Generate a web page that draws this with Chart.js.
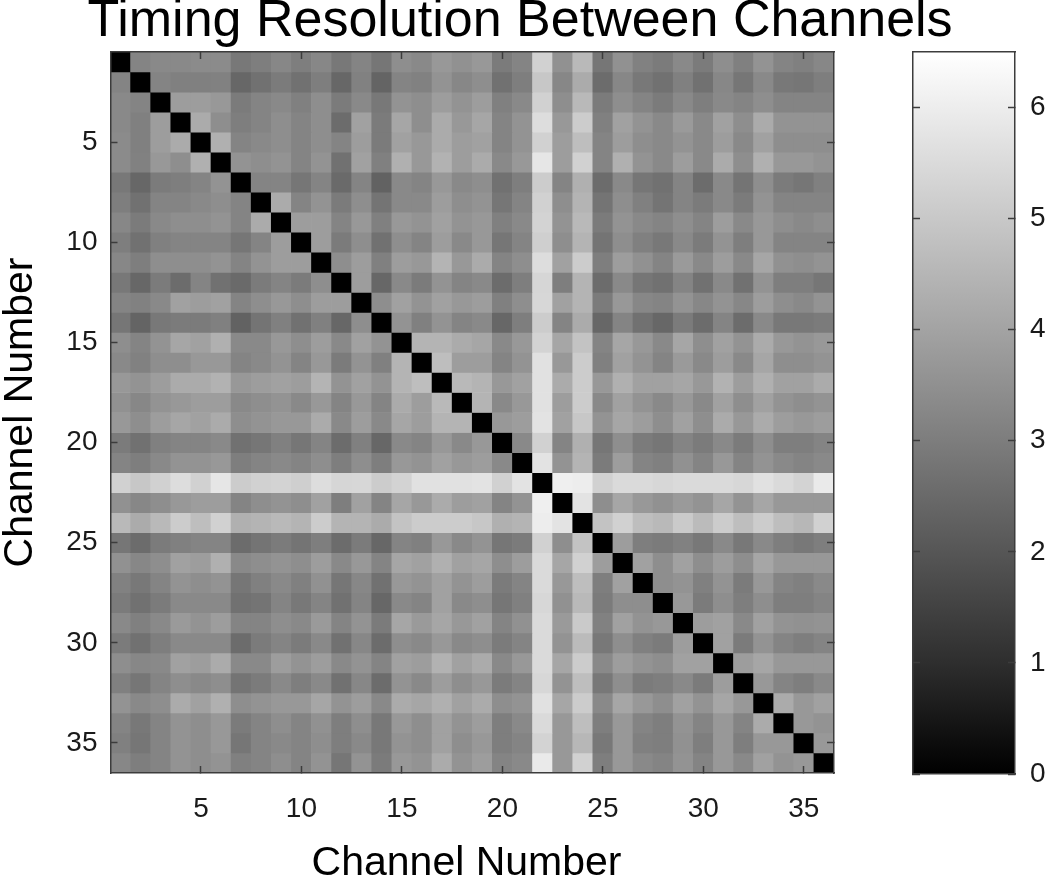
<!DOCTYPE html>
<html>
<head>
<meta charset="utf-8">
<title>Timing Resolution Between Channels</title>
<script src="https://cdn.jsdelivr.net/npm/chart.js@4"></script>
<style>
html, body { margin: 0; padding: 0; background: #fff; overflow: hidden; }
#wrap { position: relative; width: 1050px; height: 878px; }
canvas { position: absolute; top: 0; filter: blur(0.7px); }
#matrixChart { left: 0; }
#colorbarChart { left: 880px; }
</style>
</head>
<body>
<div id="wrap">
  <canvas id="matrixChart" width="1050" height="878"></canvas>
  <canvas id="colorbarChart" width="170" height="878"></canvas>
</div>
<script>
const channels = [1,2,3,4,5,6,7,8,9,10,11,12,13,14,15,16,17,18,19,20,21,22,23,24,25,26,27,28,29,30,31,32,33,34,35,36];
const channelTicks = [5,10,15,20,25,30,35];
const colorTicks = [0,1,2,3,4,5,6];
const colorRange = [0,6.5];

// upper triangle, each row starts right after the diagonal (diagonal is 0, matrix is symmetric)
const upperRows = [
[3.19,3.32,3.32,3.37,3.37,2.86,3.01,3.26,3.01,3.26,2.86,3.19,2.81,3.44,3.32,3.70,3.52,3.70,2.93,3.19,5.23,3.52,4.59,2.81,3.52,3.11,2.93,3.32,2.93,3.44,3.06,3.57,3.19,3.06,3.26],
[3.19,3.06,3.06,3.11,2.42,2.68,2.93,2.68,3.01,2.42,3.11,2.35,3.19,3.11,3.57,3.26,3.44,2.68,3.01,4.97,3.26,4.21,2.55,3.26,2.86,2.68,3.06,2.68,3.26,2.81,3.32,2.86,2.81,3.01],
[3.83,3.83,3.70,2.93,3.19,3.32,3.06,3.44,2.93,3.32,2.86,3.57,3.44,3.83,3.57,3.83,3.06,3.32,5.23,3.44,4.59,2.93,3.44,3.19,2.93,3.32,3.01,3.32,3.19,3.44,3.19,3.19,3.19],
[4.21,3.44,3.01,3.19,3.44,3.19,3.44,2.55,3.95,2.93,4.08,3.44,4.21,3.70,4.08,3.19,3.57,5.56,3.70,5.10,3.06,3.95,3.57,3.32,3.77,3.32,3.95,3.44,4.21,3.57,3.57,3.57],
[4.34,3.19,3.32,3.44,3.19,3.44,3.19,3.83,2.93,3.95,3.70,4.21,3.83,3.95,3.19,3.57,5.23,3.83,4.72,3.19,3.83,3.44,3.32,3.57,3.32,3.83,3.32,3.95,3.44,3.44,3.44],
[3.57,3.44,3.57,3.19,3.57,2.68,3.95,3.06,4.34,3.70,4.39,3.83,4.21,3.32,3.70,5.81,3.83,5.23,3.19,4.34,3.57,3.32,3.83,3.32,4.21,3.44,4.34,3.70,3.70,3.57],
[3.19,3.19,2.81,3.19,2.50,3.19,2.30,3.32,3.19,3.70,3.32,3.44,2.68,3.01,5.10,3.19,4.34,2.55,3.32,2.81,2.68,3.19,2.55,3.32,2.75,3.44,2.93,2.81,3.06],
[4.21,3.19,3.57,2.93,3.44,2.75,3.32,3.32,3.83,3.44,3.57,2.81,3.19,5.23,3.44,4.46,2.75,3.44,3.06,2.75,3.19,2.93,3.32,2.93,3.57,3.19,3.19,3.19],
[3.83,3.83,3.19,3.70,3.06,3.70,3.57,3.95,3.57,3.70,3.06,3.32,5.30,3.57,4.59,2.93,3.57,3.32,3.19,3.44,3.19,3.83,3.32,3.70,3.44,3.32,3.44],
[3.83,2.93,3.44,2.68,3.44,3.19,3.83,3.32,3.70,2.81,3.19,5.18,3.44,4.46,2.75,3.44,3.06,2.86,3.32,2.93,3.57,3.01,3.70,3.19,3.19,3.19],
[3.44,3.83,3.06,3.83,3.70,4.46,3.70,4.21,3.19,3.44,5.56,3.95,5.10,3.01,3.83,3.52,3.19,3.77,3.32,3.83,3.32,4.08,3.52,3.44,3.57],
[3.83,2.42,3.32,2.93,3.57,3.19,3.32,2.55,3.01,5.36,3.01,4.46,2.55,3.32,2.81,2.68,3.19,2.68,3.32,2.68,3.57,3.01,3.01,2.81],
[3.44,3.95,3.57,3.95,3.70,3.83,3.06,3.44,5.41,3.95,4.46,2.93,3.70,3.26,3.19,3.57,3.26,3.57,3.26,3.83,3.44,3.32,3.57],
[3.57,3.06,3.57,3.19,3.32,2.42,3.01,5.10,3.19,4.21,2.42,3.19,2.68,2.42,2.93,2.55,3.19,2.55,3.32,2.86,2.86,2.93],
[4.46,4.46,4.21,4.08,3.32,3.70,5.30,4.08,4.85,3.19,4.08,3.70,3.32,4.08,3.44,3.95,3.57,4.21,3.70,3.57,3.70],
[4.72,3.83,3.83,3.19,3.57,5.66,3.70,5.10,3.06,3.95,3.57,3.19,3.77,3.32,3.83,3.32,4.08,3.44,3.44,3.57],
[4.59,4.46,3.70,3.95,5.66,4.21,5.10,3.70,4.34,3.95,3.95,4.08,3.70,4.39,3.83,4.34,3.95,3.95,4.21],
[4.46,3.32,3.70,5.66,3.83,5.10,3.32,3.95,3.57,3.32,3.70,3.32,3.95,3.44,3.95,3.57,3.44,3.57],
[3.70,3.83,5.74,3.95,4.97,3.57,4.08,3.83,3.44,3.95,3.44,4.21,3.70,4.21,3.83,3.70,3.83],
[3.32,5.23,3.19,4.34,2.81,3.44,2.93,2.81,3.19,2.93,3.32,2.93,3.44,3.01,3.01,3.19],
[5.74,3.57,4.46,2.93,3.83,3.19,3.06,3.52,3.19,3.70,3.19,3.57,3.32,3.19,3.32],
[6.07,5.99,5.23,5.48,5.48,5.41,5.48,5.48,5.48,5.41,5.66,5.48,5.30,5.92],
[5.74,3.44,4.08,3.70,3.52,3.77,3.57,4.08,3.57,4.08,3.70,3.70,3.70],
[4.85,5.23,4.72,4.59,5.05,4.64,5.10,4.72,5.10,4.72,4.54,5.23],
[3.83,3.01,2.93,3.11,2.86,3.32,2.86,3.32,3.01,2.86,3.01],
[3.95,3.44,3.95,3.44,3.83,3.44,4.08,3.70,3.70,3.70],
[3.44,3.57,3.06,3.57,2.93,3.70,3.19,3.06,3.32],
[3.70,2.93,3.44,3.01,3.44,3.01,3.01,3.19],
[3.83,3.95,3.32,3.95,3.57,3.52,3.57],
[3.95,2.93,3.57,3.19,3.01,3.19],
[3.83,4.08,3.70,3.70,3.70],
[3.70,3.19,3.01,3.32],
[4.21,3.70,3.95],
[3.70,3.57],
[3.70]
];

function cellValue(row, col) {
  if (row === col) return 0;
  const lo = Math.min(row, col), hi = Math.max(row, col);
  return upperRows[lo][hi - lo - 1];
}

// colour map of the reference runs a little lighter than a straight ramp in the mid greys
function grayFor(v) {
  const g = Math.round(Math.pow(v / colorRange[1], 0.92) * 255);
  return `rgb(${g},${g},${g})`;
}

const FONT = 'Arial, "Liberation Sans", sans-serif';
const INK = '#1a1a1a';
const EDGE = '#3c3c3c';

function fixedTicks(list) {
  return scale => { scale.ticks = list.map(v => ({ value: v })); };
}

function axisBase() {
  return {
    offset: false,
    border: { display: true, color: EDGE, width: 1.5, z: 1 },
    grid: { offset: false, drawOnChartArea: false, tickLength: -7, tickColor: EDGE, tickWidth: 1.5, z: 1 }
  };
}

// one dataset per row, each cell a floating bar one channel tall
const rowDatasets = channels.map((ch, r) => ({
  data: channels.map(c => ({ x: c, y: [ch - 0.5, ch + 0.5] })),
  backgroundColor: channels.map((c, k) => grayFor(cellValue(r, k))),
  borderWidth: 0,
  barPercentage: 1,
  categoryPercentage: 1,
  grouped: false
}));

new Chart(document.getElementById('matrixChart'), {
  type: 'bar',
  data: { datasets: rowDatasets },
  options: {
    responsive: false,
    animation: false,
    layout: { padding: { left: 0, right: 10, top: 0, bottom: 0 } },
    plugins: {
      legend: { display: false },
      tooltip: { enabled: false },
      title: {
        display: true,
        text: 'Timing Resolution Between Channels',
        color: '#000',
        font: { family: FONT, size: 52, weight: 'normal', lineHeight: 1 },
        padding: { top: -4, bottom: 4 }
      }
    },
    scales: {
      x: {
        ...axisBase(),
        type: 'linear', position: 'bottom', min: 0.5, max: 36.5,
        afterBuildTicks: fixedTicks(channelTicks),
        afterFit: s => { s.height = 105; },
        ticks: { color: INK, font: { family: FONT, size: 28 }, padding: 26, maxRotation: 0, autoSkip: false, callback: v => String(v) },
        title: { display: true, text: 'Channel Number ', color: '#000', font: { family: FONT, size: 41, lineHeight: 1 }, padding: { top: 0, bottom: -6 } }
      },
      x2: {
        ...axisBase(),
        type: 'linear', position: 'top', min: 0.5, max: 36.5,
        afterBuildTicks: fixedTicks(channelTicks),
        afterFit: s => { s.height = 0; },
        ticks: { display: false }
      },
      y: {
        ...axisBase(),
        type: 'linear', position: 'left', reverse: true, min: 0.5, max: 36.5,
        afterBuildTicks: fixedTicks(channelTicks),
        afterFit: s => { s.width = 110.5; },
        ticks: { color: INK, font: { family: FONT, size: 28 }, padding: 20, autoSkip: false, callback: v => String(v) },
        title: { display: true, text: 'Channel Number', color: '#000', font: { family: FONT, size: 41, lineHeight: 1 }, padding: { top: 0, bottom: 0 } }
      },
      y2: {
        ...axisBase(),
        type: 'linear', position: 'right', reverse: true, min: 0.5, max: 36.5,
        afterBuildTicks: fixedTicks(channelTicks),
        afterFit: s => { s.width = 206; },
        ticks: { display: false }
      }
    }
  }
});

new Chart(document.getElementById('colorbarChart'), {
  type: 'bar',
  data: {
    labels: ['scale'],
    datasets: [{
      data: [colorRange],
      borderWidth: 0,
      barPercentage: 1,
      categoryPercentage: 1,
      backgroundColor: ctx => {
        const a = ctx.chart.chartArea;
        if (!a) return '#888';
        const g = ctx.chart.ctx.createLinearGradient(0, a.bottom, 0, a.top);
        colorTicks.forEach(v => g.addColorStop(v / colorRange[1], grayFor(v)));
        g.addColorStop(1, grayFor(colorRange[1]));
        return g;
      }
    }]
  },
  options: {
    responsive: false,
    animation: false,
    layout: { padding: { top: 52, bottom: 104, left: 0, right: 0 } },
    plugins: { legend: { display: false }, tooltip: { enabled: false } },
    scales: {
      x: {
        position: 'bottom',
        afterFit: s => { s.height = 0; },
        ticks: { display: false },
        grid: { display: false },
        border: { display: true, color: EDGE, width: 1.5, z: 1 }
      },
      x2: {
        type: 'category', labels: ['scale'], position: 'top',
        afterFit: s => { s.height = 0; },
        ticks: { display: false },
        grid: { display: false },
        border: { display: true, color: EDGE, width: 1.5, z: 1 }
      },
      y: {
        ...axisBase(),
        type: 'linear', position: 'right', min: colorRange[0], max: colorRange[1],
        afterBuildTicks: fixedTicks(colorTicks),
        afterFit: s => { s.width = 35; },
        ticks: { color: INK, font: { family: FONT, size: 28 }, padding: 22, callback: v => String(v) }
      },
      y2: {
        ...axisBase(),
        type: 'linear', position: 'left', min: colorRange[0], max: colorRange[1],
        afterBuildTicks: fixedTicks(colorTicks),
        afterFit: s => { s.width = 33; },
        ticks: { display: false }
      }
    }
  }
});
</script>
</body>
</html>
